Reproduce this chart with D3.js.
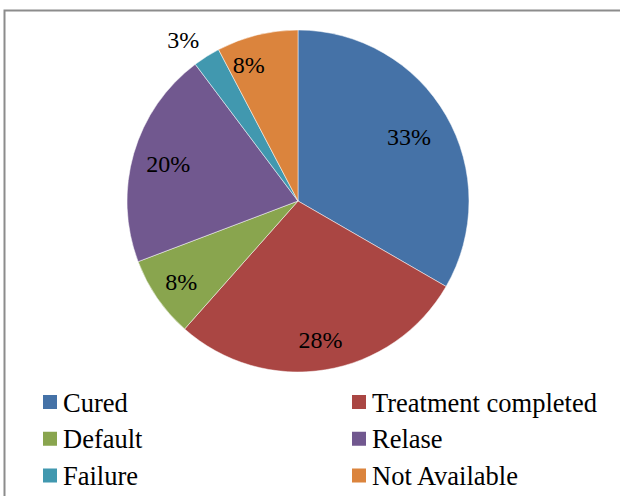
<!doctype html>
<html>
<head>
<meta charset="utf-8">
<style>
  body { margin: 0; background: #fff; }
  svg { display: block; }
  text { font-family: "Liberation Serif", "Times New Roman", "DejaVu Serif", serif; }
</style>
</head>
<body>
<svg width="620" height="496"></svg>
<script src="https://d3js.org/d3.v7.min.js"></script>
<script>
var categories = ["Cured", "Treatment completed", "Default", "Relase", "Failure", "Not Available"];
var values = [13, 11, 3, 8, 1, 3];
var labels = ["33%", "28%", "8%", "20%", "3%", "8%"];
var colors = ["#4572A7", "#AA4643", "#89A54E", "#71588F", "#4198AF", "#DB843D"];

var svg = d3.select("svg");

// chart frame
svg.append("rect")
  .attr("x", 4.5).attr("y", 10.5)
  .attr("width", 640).attr("height", 520)
  .attr("fill", "none")
  .attr("stroke", "#8c8c8c")
  .attr("stroke-width", 2);

var cx = 298, cy = 201, r = 171;

var pie = d3.pie().sort(null).value(function(d) { return d; });
var arcs = pie(values);
var arc = d3.arc().innerRadius(0).outerRadius(r);

var g = svg.append("g").attr("transform", "translate(" + cx + "," + cy + ")");

g.selectAll(".slice")
  .data(arcs)
  .enter()
  .append("path")
  .attr("d", arc)
  .attr("fill", function(d, i) { return colors[i]; })
  .attr("stroke", "#fff")
  .attr("stroke-width", 0.5);

// label placement: radius fraction and a small angle nudge (degrees)
var labelR = [0.75, 0.82, 0.83, 0.79, 1.16, 0.85];
var labelNudge = [0, 0, 0, 0, -3, -6];
g.selectAll(".lbl")
  .data(arcs)
  .enter()
  .append("text")
  .attr("transform", function(d, i) {
    var a = (d.startAngle + d.endAngle) / 2 + labelNudge[i] * Math.PI / 180;
    var rr = r * labelR[i];
    return "translate(" + (Math.sin(a) * rr) + "," + (-Math.cos(a) * rr) + ")";
  })
  .attr("text-anchor", "middle")
  .attr("dy", "0.35em")
  .style("font-size", "24px")
  .attr("fill", "#000")
  .text(function(d, i) { return labels[i]; });

// legend
var legend = svg.selectAll(".leg")
  .data(categories)
  .enter()
  .append("g")
  .attr("transform", function(d, i) {
    var col = i % 2, row = Math.floor(i / 2);
    return "translate(" + (col ? 352 : 43) + "," + (402 + row * 36.75) + ")";
  });

legend.append("rect")
  .attr("x", 0).attr("y", -7)
  .attr("width", 14).attr("height", 14)
  .attr("fill", function(d, i) { return colors[i]; });

legend.append("text")
  .attr("x", 20)
  .attr("y", 9.5)
  .style("font-size", "26.5px")
  .attr("fill", "#000")
  .text(function(d) { return d; });
</script>
</body>
</html>
